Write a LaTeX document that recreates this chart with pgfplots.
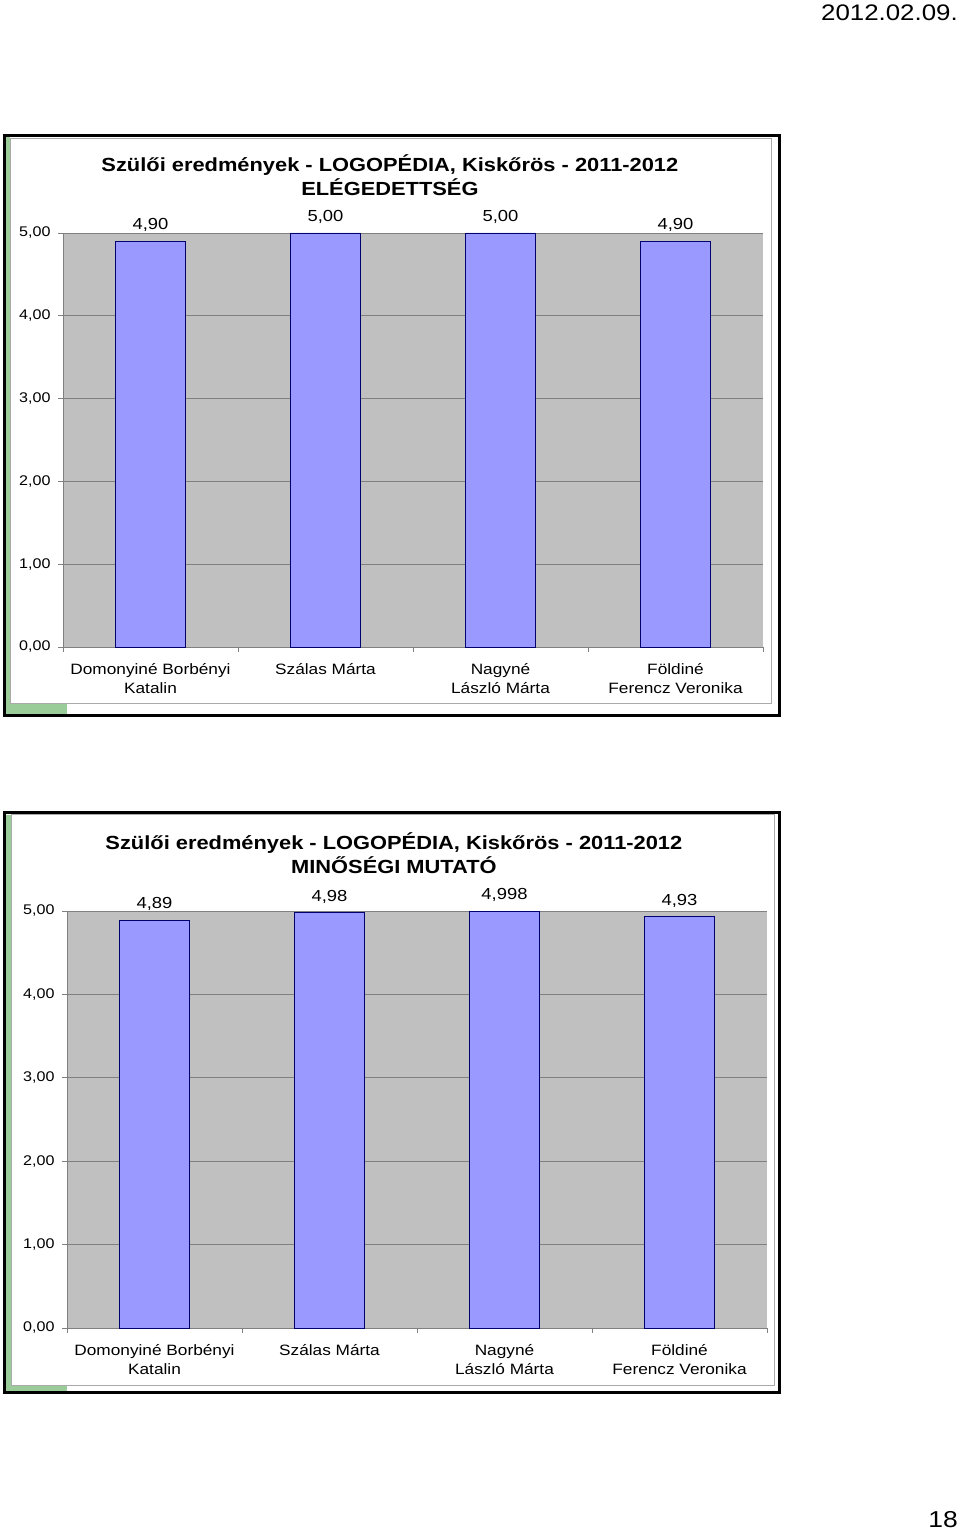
\documentclass[border=0pt]{standalone}
\usepackage{fontspec}
\setmainfont{Liberation Sans}[FakeStretch=1.15]
\usepackage{pgfplots}
\pgfplotsset{compat=1.18}
\definecolor{plotgray}{RGB}{192,192,192}
\definecolor{gridgray}{RGB}{128,128,128}
\definecolor{barblue}{RGB}{153,153,255}
\definecolor{baredge}{RGB}{0,0,110}
\definecolor{frgreen}{RGB}{153,204,153}
\definecolor{innergray}{RGB}{170,170,170}

\pgfplotsset{szstyle/.style={
  ybar, scale only axis, width=700pt, anchor=south west,
  ymin=0, ymax=5, xmin=-0.5, xmax=3.5,
  bar width=70pt,
  axis background/.style={fill=plotgray},
  axis x line*=bottom, axis y line*=left,
  axis line style={gridgray, line width=0.8pt},
  ytick={0,1,2,3,4,5}, ymajorgrids, grid style={gridgray, line width=0.8pt},
  xtick={0,1,2,3},
  xticklabels={{Domonyiné Borbényi\\Katalin},{Szálas Márta},{Nagyné\\László Márta},{Földiné\\Ferencz Veronika}},
  xticklabel style={align=center, font=\fontsize{15}{18.5}\selectfont, yshift=-8pt},
  major x tick style={draw=none},
  minor xtick={-0.5,0.5,1.5,2.5,3.5},
  tick align=outside, major tick length=5pt, minor tick length=5pt,
  minor x tick style={gridgray, line width=0.8pt},
  y tick style={gridgray, line width=0.8pt},
  yticklabel style={font=\fontsize{14}{16}\selectfont, xshift=-4pt},
  yticklabel style={/pgf/number format/.cd, use comma, fixed, fixed zerofill, precision=2, assume math mode=true},
  point meta=explicit symbolic,
  nodes near coords,
  every node near coord/.append style={font=\fontsize{16}{18}\selectfont, anchor=center, yshift=16pt},
  title style={at={(axis description cs:0.467,1)}, anchor=center, yshift=52pt, align=center, font=\fontsize{19}{24}\selectfont\bfseries},
  clip=false,
}}

\begin{document}
\begin{tikzpicture}[x=1pt,y=1pt]
\path[use as bounding box] (0,0) rectangle (960,1532);
% date and page number
\node[anchor=east, font=\fontsize{22.5}{26}\selectfont, inner sep=0pt] at (958,1519) {2012.02.09.};
\node[anchor=east, font=\fontsize{23}{26}\selectfont, inner sep=0pt] at (958,12) {18};

% ---- chart 1 frame
\fill[white] (4.5,816) rectangle (779,1396.5);
\fill[frgreen] (6,818) rectangle (10,1395);
\fill[frgreen] (6,818) rectangle (67,828);
\draw[innergray, line width=1pt] (10,828) rectangle (771,1393);
\draw[black, line width=3pt] (4.5,816) rectangle (779,1396.5);

% ---- chart 2 frame
\fill[white] (4.5,139) rectangle (779,719.5);
\fill[frgreen] (6,141) rectangle (11,717);
\fill[frgreen] (6,141) rectangle (67,146);
\draw[innergray, line width=1pt] (11,146) rectangle (774,717);
\draw[black, line width=3pt] (4.5,139) rectangle (779,719.5);

\begin{axis}[szstyle, at={(63pt,885pt)}, height=414pt,
  title={Szülői eredmények - LOGOPÉDIA, Kiskőrös - 2011-2012\\ELÉGEDETTSÉG}]
\addplot[fill=barblue, draw=baredge, line width=0.8pt] coordinates {
  (0,4.90) [4,90]
  (1,5.00) [5,00]
  (2,5.00) [5,00]
  (3,4.90) [4,90]
};
\end{axis}

\begin{axis}[szstyle, at={(67pt,204pt)}, height=417pt,
  title={Szülői eredmények - LOGOPÉDIA, Kiskőrös - 2011-2012\\MINŐSÉGI MUTATÓ}]
\addplot[fill=barblue, draw=baredge, line width=0.8pt] coordinates {
  (0,4.89) [4,89]
  (1,4.98) [4,98]
  (2,4.998) [4,998]
  (3,4.93) [4,93]
};
\end{axis}
\end{tikzpicture}
\end{document}
